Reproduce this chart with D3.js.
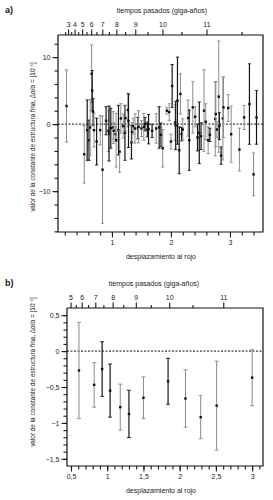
<!DOCTYPE html>
<html>
<head>
<meta charset="utf-8">
<script src="https://cdn.jsdelivr.net/npm/d3@7"></script>
<style>
  body { margin: 0; background: #fff; }
  text { font-family: "Liberation Sans", Arial, sans-serif; fill: #1a1a1a; }
  .tick text { font-size: 7px; fill: #1a1a1a; }
  .tick line { stroke: #1a1a1a; }
</style>
</head>
<body>
<div id="chart"></div>
<script>
// panel a: individual absorbers (redshift, delta alpha/alpha, error, 1 = grey sample)
var zA = [0.23, 0.53, 0.58, 0.61, 0.63, 0.655, 0.665, 0.68, 0.695, 0.74, 0.80, 0.84, 0.90, 0.94, 0.95,
  0.98, 1.02, 1.03, 1.06, 1.07, 1.11, 1.13, 1.15, 1.19, 1.22, 1.23, 1.27, 1.28, 1.33, 1.34, 1.36, 1.39,
  1.44, 1.45, 1.50, 1.54, 1.56, 1.60, 1.62, 1.68, 1.75, 1.80, 1.83, 1.86, 1.93, 1.97, 2.00, 2.02, 2.07,
  2.08, 2.11, 2.14, 2.16, 2.18, 2.20, 2.29, 2.31, 2.37, 2.41, 2.45, 2.48, 2.51, 2.56, 2.59, 2.63, 2.66,
  2.75, 2.76, 2.78, 2.81, 2.82, 2.85, 2.88, 2.89, 2.97, 3.02, 3.16, 3.24, 3.33, 3.40, 3.45];
var dA = [2.7, -4.5, -0.9, -2.4, -0.5, 7.5, 5.0, 1.8, -0.9, -2.6, -0.9, -6.8, 0.5, -1.0, -1.4,
  -0.6, -0.5, -1.0, -1.5, -2.4, -0.9, -4.1, 0.85, -0.3, -1.3, 0.9, 2.1, 0.5, -2.7, -1.2, -0.3, -0.65,
  -0.6, -0.4, -0.65, -0.4, 0.0, -0.8, -0.75, -1.0, -0.65, -0.5, -1.6, -3.6, 2.0, 1.8, -2.6, 5.7, 0.25,
  -0.2, 3.5, -3.9, 4.5, -1.5, -0.8, 0.9, -2.4, 2.5, 1.1, -2.0, -1.3, -1.8, 2.0, 0.35, -2.4, -1.6,
  0.75, 1.5, -0.8, 4.1, -0.3, -4.7, 0.85, 2.5, 2.4, -1.5, -3.8, 1.0, 3.0, -7.5, 1.0];
var eA = [5.4, 4.3, 4.5, 3.0, 4.2, 4.3, 3.0, 2.0, 2.5, 3.5, 2.2, 8.0, 2.1, 3.1, 4.1,
  3.0, 2.4, 1.2, 1.1, 4.0, 3.7, 3.1, 2.2, 1.8, 4.1, 1.9, 2.5, 4.0, 2.5, 1.4, 1.2, 2.2,
  1.6, 2.4, 1.2, 2.0, 1.0, 1.1, 2.2, 1.0, 2.2, 3.1, 1.75, 2.8, 0.5, 1.25, 1.1, 3.2, 2.7,
  3.6, 6.5, 3.5, 3.0, 1.0, 1.6, 2.7, 4.5, 3.85, 1.5, 2.0, 4.6, 2.0, 6.1, 2.7, 2.0, 1.0,
  5.5, 4.85, 1.2, 8.3, 2.0, 1.3, 6.2, 4.5, 2.0, 4.2, 3.2, 1.8, 6.0, 3.2, 4.0];
var gA = [1, 1, 0, 0, 1, 1, 0, 0, 1, 0, 1, 1, 0, 1, 0,
  0, 1, 1, 1, 1, 0, 1, 1, 1, 0, 1, 1, 0, 0, 1, 1, 1,
  0, 1, 1, 1, 0, 0, 0, 0, 1, 0, 0, 1, 1, 1, 1, 0, 1,
  0, 0, 0, 1, 0, 1, 1, 0, 1, 1, 0, 0, 0, 1, 1, 1, 0,
  1, 1, 1, 1, 0, 0, 1, 1, 1, 1, 1, 1, 0, 1, 0];

// panel b: binned values
var zB = [0.61, 0.82, 0.93, 1.04, 1.18, 1.30, 1.50, 1.84, 2.08, 2.29, 2.51, 3.00];
var dB = [-0.27, -0.47, -0.25, -0.55, -0.78, -0.875, -0.65, -0.42, -0.66, -0.92, -0.76, -0.37];
var eB = [0.67, 0.31, 0.38, 0.37, 0.32, 0.33, 0.29, 0.32, 0.40, 0.30, 0.62, 0.39];
var gB = [1, 1, 0, 0, 1, 0, 1, 0, 1, 1, 1, 1];

// tick labels
var timeLabelsA = [3, 4, 5, 6, 7, 8, 9, 10, 11];
var timeLabelsB = [5, 6, 7, 8, 9, 10, 11];
var timeMinor = [2.5, 3.5, 4.5, 5.5, 6.5, 7.5, 8.5, 9.5, 10.5, 11.5];
var zLabelsA = [1, 2, 3];
var yLabelsA = [-10, 0, 10];
var zLabelsB = [0.5, 1, 1.5, 2, 2.5, 3];
var yLabelsB = [-1.5, -1, -0.5, 0, 0.5];

// lookback time (Gyr) for H0 = 70, Om = 0.3, OL = 0.7
function lookback(z) {
  var n = 200, h = z / n, s = 0;
  function f(x) { return 1 / ((1 + x) * Math.sqrt(0.3 * Math.pow(1 + x, 3) + 0.7)); }
  for (var i = 0; i <= n; i++) {
    var w = (i == 0 || i == n) ? 1 : (i % 2 ? 4 : 2);
    s += w * f(i * h);
  }
  return 977.8 / 70 * s * h / 3;
}
function zOfTime(t) {
  var lo = 0, hi = 20;
  for (var k = 0; k < 60; k++) {
    var mid = (lo + hi) / 2;
    if (lookback(mid) < t) lo = mid; else hi = mid;
  }
  return (lo + hi) / 2;
}

var fmt = function(d) { return String(d).replace(".", ",").replace("-", "\u2212"); };

var svg = d3.select("#chart").append("svg")
  .attr("width", 273).attr("height", 500);

function panel(o) {
  var x = d3.scaleLinear().domain(o.xd).range([o.left, o.right]);
  var y = d3.scaleLinear().domain(o.yd).range([o.bottom, o.top]);
  var g = svg.append("g");

  // zero line
  g.append("line")
    .attr("x1", o.left).attr("x2", o.right)
    .attr("y1", y(0)).attr("y2", y(0))
    .attr("stroke", "#111").attr("stroke-width", 1)
    .attr("stroke-dasharray", "2,1.5");

  // error bars
  var pts = o.z.map(function(d, i) { return {z: d, v: o.d[i], e: o.e[i], g: o.g[i]}; });
  var bars = g.append("g").selectAll("g").data(pts).enter().append("g")
    .attr("stroke", function(d) { return d.g ? "#8a8a8a" : "#151515"; })
    .attr("fill", function(d) { return d.g ? "#8a8a8a" : "#151515"; });
  bars.append("line")
    .attr("x1", function(d) { return x(d.z); }).attr("x2", function(d) { return x(d.z); })
    .attr("y1", function(d) { return y(d.v + d.e); })
    .attr("y2", function(d) { return y(Math.max(d.v - d.e, o.yd[0])); })
    .attr("stroke-width", function(d) { return d.g ? 1 : 1.2; });
  bars.append("line")
    .attr("x1", function(d) { return x(d.z) - o.cap; }).attr("x2", function(d) { return x(d.z) + o.cap; })
    .attr("y1", function(d) { return y(d.v + d.e); }).attr("y2", function(d) { return y(d.v + d.e); })
    .attr("stroke-width", 0.9);
  bars.filter(function(d) { return d.v - d.e > o.yd[0]; }).append("line")
    .attr("x1", function(d) { return x(d.z) - o.cap; }).attr("x2", function(d) { return x(d.z) + o.cap; })
    .attr("y1", function(d) { return y(d.v - d.e); }).attr("y2", function(d) { return y(d.v - d.e); })
    .attr("stroke-width", 0.9);
  bars.append("rect")
    .attr("x", function(d) { return x(d.z) - 1.2; })
    .attr("y", function(d) { return y(d.v) - 1.2; })
    .attr("width", 2.4).attr("height", 2.4)
    .attr("stroke", "none").attr("fill", "#111");

  // frame
  g.append("path")
    .attr("d", "M" + o.left + "," + o.top + "V" + o.bottom + "H" + o.right + "V" + o.top + "H" + o.left)
    .attr("fill", "none").attr("stroke", "#111").attr("stroke-width", 1.2);

  // bottom axis
  g.append("g").attr("transform", "translate(0," + o.bottom + ")")
    .call(d3.axisBottom(x).tickValues(o.xMinor).tickSize(3.5).tickFormat(""))
    .call(function(s) { s.select(".domain").remove(); });
  g.append("g").attr("transform", "translate(0," + o.bottom + ")")
    .call(d3.axisBottom(x).tickValues(o.xMajor).tickSize(5.5).tickPadding(3).tickFormat(fmt))
    .call(function(s) { s.select(".domain").remove(); });

  // left axis
  g.append("g").attr("transform", "translate(" + o.left + ",0)")
    .call(d3.axisLeft(y).tickValues(o.yMinor).tickSize(3.5).tickFormat(""))
    .call(function(s) { s.select(".domain").remove(); });
  g.append("g").attr("transform", "translate(" + o.left + ",0)")
    .call(d3.axisLeft(y).tickValues(o.yMajor).tickSize(5.5).tickPadding(2).tickFormat(fmt))
    .call(function(s) { s.select(".domain").remove(); });

  // top axis: lookback time
  var tMin = o.tMinor.map(zOfTime).filter(function(z) { return z > o.xd[0] && z < o.xd[1]; });
  var tMaj = o.tMajor.map(zOfTime);
  g.append("g").attr("transform", "translate(0," + o.top + ")")
    .call(d3.axisTop(x).tickValues(tMin).tickSize(3).tickFormat(""))
    .call(function(s) { s.select(".domain").remove(); });
  g.append("g").attr("transform", "translate(0," + o.top + ")")
    .call(d3.axisTop(x).tickValues(tMaj).tickSize(5.5).tickPadding(3)
      .tickFormat(function(d, i) { return o.tMajor[i]; }))
    .call(function(s) { s.select(".domain").remove(); });

  g.selectAll(".tick line").attr("stroke-width", 1.1);
  g.selectAll(".tick text").attr("fill", "#1a1a1a");

  // titles
  g.append("text").attr("x", o.titleX).attr("y", o.top - 22)
    .attr("text-anchor", "middle").attr("font-size", 7)
    .text("tiempos pasados (giga-años)");
  g.append("text").attr("x", 161).attr("y", o.bottom + 27)
    .attr("text-anchor", "middle").attr("font-size", 7)
    .text("desplazamiento al rojo");
  g.append("text")
    .attr("transform", "translate(35," + o.ylabY + ") rotate(-90)")
    .attr("text-anchor", "middle").attr("font-size", 6.4)
    .text("valor de la constante de estructura fina, \u0394\u03b1/\u03b1 = [10\u207b\u2075]");
  g.append("text").attr("x", 5).attr("y", o.top - 22)
    .attr("font-size", 9).attr("font-weight", "bold")
    .text(o.tag);
}

panel({
  tag: "a)", left: 58, right: 263, top: 35, bottom: 232,
  xd: [0.085, 3.56], yd: [-16.1, 13.3], cap: 1.6,
  z: zA, d: dA, e: eA, g: gA,
  xMinor: d3.range(1, 18).map(function(i) { return i * 0.2; }), xMajor: zLabelsA,
  yMinor: d3.range(-8, 7).map(function(i) { return i * 2; }), yMajor: yLabelsA,
  tMajor: timeLabelsA, tMinor: timeMinor, titleX: 162, ylabY: 137
});

panel({
  tag: "b)", left: 67, right: 263, top: 308, bottom: 466,
  xd: [0.445, 3.15], yd: [-1.6, 0.6], cap: 2,
  z: zB, d: dB, e: eB, g: gB,
  xMinor: d3.range(5, 32).map(function(i) { return i / 10; }), xMajor: zLabelsB,
  yMinor: d3.range(-15, 6).map(function(i) { return i / 10; }), yMajor: yLabelsB,
  tMajor: timeLabelsB, tMinor: timeMinor, titleX: 154, ylabY: 372
});
</script>
</body>
</html>
